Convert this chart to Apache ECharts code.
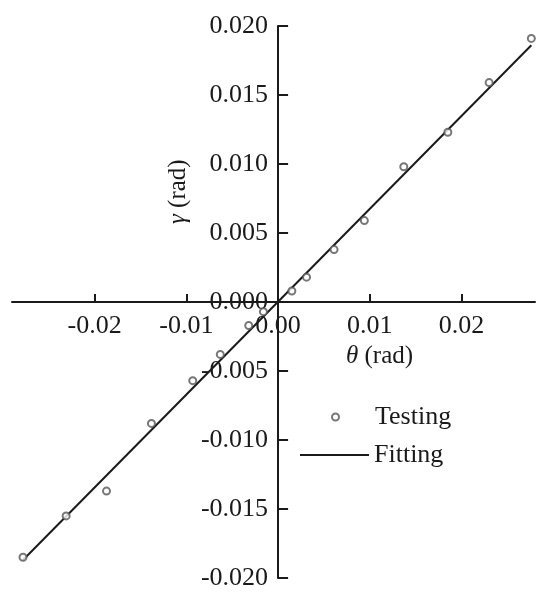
<!DOCTYPE html>
<html>
<head>
<meta charset="utf-8">
<script src="https://cdn.jsdelivr.net/npm/echarts@6/dist/echarts.min.js"></script>
<style>
  html, body { margin: 0; padding: 0; background: #fff; }
  #chart { width: 550px; height: 602px; }
</style>
</head>
<body>
<div id="chart"></div>
<script>
// measured points (theta, gamma) in rad
const testTheta = [-0.0278, -0.0231, -0.0187, -0.0138, -0.0093, -0.0063, -0.0032, -0.0016, 0.0015, 0.0031, 0.0061, 0.0094, 0.0137, 0.0185, 0.0230, 0.0276]
const testGamma = [-0.0185, -0.0155, -0.0137, -0.0088, -0.0057, -0.0038, -0.0017, -0.0007, 0.0008, 0.0018, 0.0038, 0.0059, 0.0098, 0.0123, 0.0159, 0.0191]

// fitted straight line, end points
const fitTheta = [-0.0278, 0.0276]
const fitGamma = [-0.0187, 0.0186]

const xTicks = [-0.02, -0.01, 0, 0.01, 0.02]
const yTicks = [-0.02, -0.015, -0.01, -0.005, 0, 0.005, 0.01, 0.015, 0.02]

const xMin = -0.029, xMax = 0.028
const yMin = -0.02, yMax = 0.02

const font = 'Liberation Serif'
const ink = '#1a1a1a'

// grid box, axes are shifted to cross at the origin
const gl = 12, gr = 15, gt = 26, gb = 24
const W = 550, H = 602
const zeroX = gl + (W - gl - gr) * (0 - xMin) / (xMax - xMin)
const zeroY = gt + (H - gt - gb) * (yMax - 0) / (yMax - yMin)

const chart = echarts.init(document.getElementById('chart'))

const legendText = { fontFamily: font, fontSize: 26, color: ink, lineHeight: 25 }

const option = {
  backgroundColor: '#fff',
  animation: false,
  grid: { left: gl, right: gr, top: gt, bottom: gb, containLabel: false, outerBoundsMode: 'none' },
  xAxis: {
    type: 'value',
    min: xMin,
    max: xMax,
    position: 'bottom',
    offset: -(H - gb - zeroY),
    splitLine: { show: false },
    axisLine: { onZero: false, lineStyle: { color: ink, width: 2 } },
    axisTick: { inside: true, length: 8, customValues: xTicks, lineStyle: { color: ink, width: 2 } },
    axisLabel: {
      customValues: xTicks,
      margin: 11,
      fontFamily: font,
      fontSize: 26,
      color: ink,
      formatter: v => v.toFixed(2)
    }
  },
  yAxis: {
    type: 'value',
    min: yMin,
    max: yMax,
    position: 'left',
    offset: -(zeroX - gl),
    splitLine: { show: false },
    axisLine: { onZero: false, lineStyle: { color: ink, width: 2 } },
    axisTick: { inside: true, length: 10, customValues: yTicks, lineStyle: { color: ink, width: 2 } },
    axisLabel: {
      customValues: yTicks,
      margin: 10,
      fontFamily: font,
      fontSize: 26,
      color: ink,
      formatter: v => v.toFixed(3)
    }
  },
  legend: [
    {
      left: 331,
      top: 404,
      padding: 0,
      itemWidth: 69,
      itemHeight: 7,
      textStyle: legendText,
      data: ['Testing']
    },
    {
      left: 300,
      top: 442,
      padding: 0,
      itemWidth: 69,
      itemHeight: 2,
      textStyle: legendText,
      data: [{ name: 'Fitting', icon: 'rect' }]
    }
  ],
  graphic: [
    {
      type: 'text',
      left: 346,
      top: 344,
      style: {
        text: '{i|θ} (rad)',
        font: '25px "Liberation Serif"',
        fill: ink,
        rich: { i: { fontStyle: 'italic', fontFamily: font, fontSize: 25 } }
      }
    },
    {
      type: 'text',
      x: 166,
      y: 224,
      rotation: Math.PI / 2,
      style: {
        text: '{i|γ} (rad)',
        font: '25px "Liberation Serif"',
        fill: ink,
        rich: { i: { fontStyle: 'italic', fontFamily: font, fontSize: 25 } }
      }
    }
  ],
  series: [
    {
      name: 'Testing',
      type: 'scatter',
      symbol: 'emptyCircle',
      symbolSize: 7,
      itemStyle: { color: '#555', borderWidth: 1 },
      data: testTheta.map((t, i) => [t, testGamma[i]]),
      z: 3
    },
    {
      name: 'Fitting',
      type: 'line',
      symbol: 'none',
      lineStyle: { color: ink, width: 2 },
      itemStyle: { color: ink },
      data: fitTheta.map((t, i) => [t, fitGamma[i]]),
      z: 2
    }
  ]
}

chart.setOption(option)
</script>
</body>
</html>
